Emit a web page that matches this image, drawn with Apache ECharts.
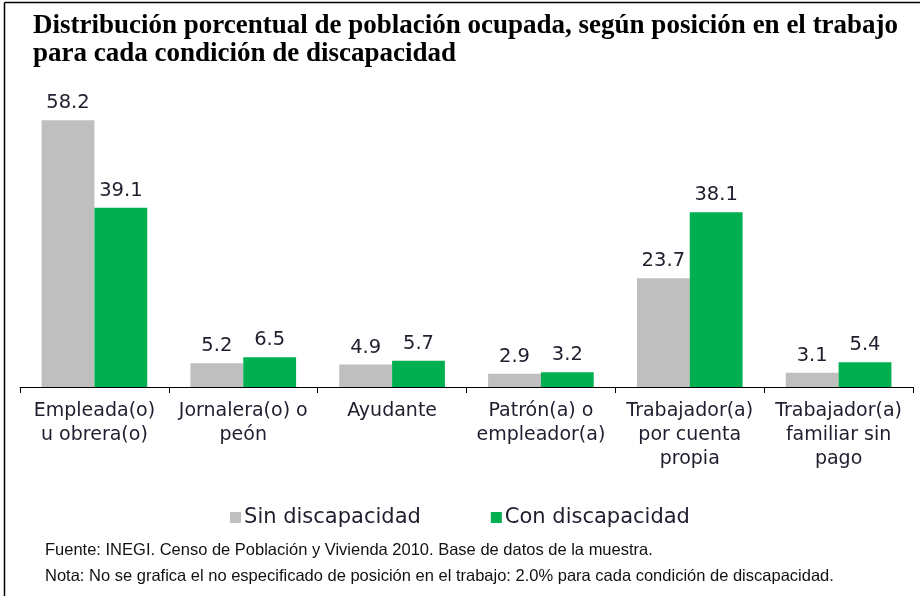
<!DOCTYPE html>
<html><head><meta charset="utf-8">
<script src="https://cdn.jsdelivr.net/npm/echarts@6/dist/echarts.min.js"></script>
<style>html,body{margin:0;padding:0;background:#fff}#c{width:920px;height:596px}</style>
</head><body><div id="c"></div>
<script>
const categories = ["Empleada(o)\nu obrera(o)", "Jornalera(o) o\npeón", "Ayudante", "Patrón(a) o\nempleador(a)", "Trabajador(a)\npor cuenta\npropia", "Trabajador(a)\nfamiliar sin\npago"];
const sinDiscapacidad = [58.2, 5.2, 4.9, 2.9, 23.7, 3.1];
const conDiscapacidad = [39.1, 6.5, 5.7, 3.2, 38.1, 5.4];
const seriesNames = ["Sin discapacidad", "Con discapacidad"];
const titleText = "Distribución porcentual de población ocupada, según posición en el trabajo\npara cada condición de discapacidad";
const note1 = "Fuente: INEGI. Censo de Población y Vivienda 2010. Base de datos de la muestra.";
const note2 = "Nota: No se grafica el no especificado de posición en el trabajo: 2.0% para cada condición de discapacidad.";

const chart = echarts.init(document.getElementById('c'));
const labelStyle = {show: true, position: 'top', distance: 7, color: '#1e1e2e', fontFamily: 'DejaVu Sans', fontSize: 19.5, formatter: p => p.value.toFixed(1)};
chart.setOption({
  animation: false,
  backgroundColor: '#fff',
  title: {text: titleText, left: 28, top: 7, textStyle: {fontFamily: 'Liberation Serif, Times New Roman', fontWeight: 'bold', fontSize: 27, color: '#000', lineHeight: 28}},
  legend: {data: seriesNames, left: 'center', top: 502, itemWidth: 11, itemHeight: 11, itemGap: 70, icon: 'rect',
    textStyle: {fontFamily: 'DejaVu Sans', fontSize: 21, color: '#1e1e2e', padding: [0,0,0,-2]}},
  grid: {left: 20, right: 7, top: 89, bottom: 209, containLabel: false},
  xAxis: {type: 'category', data: categories,
    axisLine: {lineStyle: {color: '#000', width: 1}},
    axisTick: {show: true, length: 6, lineStyle: {color: '#000'}},
    axisLabel: {interval: 0, color: '#1e1e2e', fontFamily: 'DejaVu Sans', fontSize: 19, lineHeight: 24, margin: 12}},
  yAxis: {type: 'value', min: 0, max: 65, show: false, splitLine: {show: false}},
  series: [
    {name: seriesNames[0], type: 'bar', data: sinDiscapacidad, itemStyle: {color: '#BFBFBF'}, barGap: '0%', barCategoryGap: '29%', label: labelStyle},
    {name: seriesNames[1], type: 'bar', data: conDiscapacidad, itemStyle: {color: '#00B050'}, label: labelStyle}
  ],
  graphic: [
    {type: 'line', shape: {x1: 4.5, y1: 2.5, x2: 4.5, y2: 596}, style: {stroke: '#000', lineWidth: 1.5}},
    {type: 'line', shape: {x1: 4.5, y1: 2.5, x2: 920, y2: 2.5}, style: {stroke: '#000', lineWidth: 1.5}},
    {type: 'text', left: 45, top: 542, style: {text: note1, font: '16.5px "Liberation Sans", Arial, sans-serif', fill: '#111'}},
    {type: 'text', left: 45, top: 568, style: {text: note2, font: '16.5px "Liberation Sans", Arial, sans-serif', fill: '#111'}}
  ]
});
</script></body></html>
